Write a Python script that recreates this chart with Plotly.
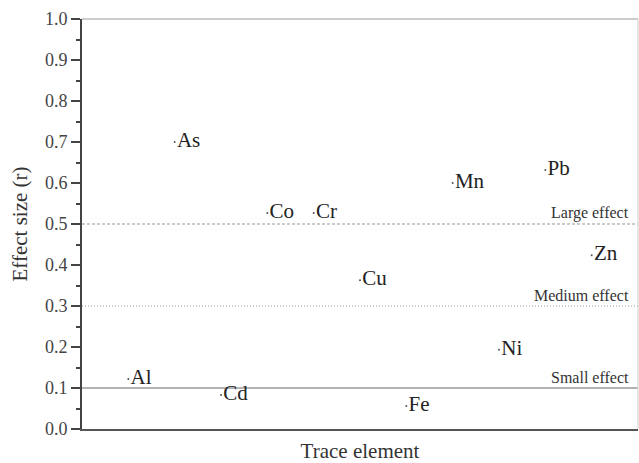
import plotly.graph_objects as go

elements = ["Al", "As", "Cd", "Co", "Cr", "Cu", "Fe", "Mn", "Ni", "Pb", "Zn"]
positions = [1, 2, 3, 4, 5, 6, 7, 8, 9, 10, 11]
effect_r = [0.122, 0.70, 0.083, 0.527, 0.527, 0.363, 0.056, 0.60, 0.193, 0.632, 0.424]

thresholds = [0.1, 0.3, 0.5]
threshold_labels = ["Small effect", "Medium effect", "Large effect"]
threshold_dash = ["solid", "1px,2px", "3px,2px"]
threshold_color = ["#666666", "#999999", "#999999"]

y_ticks = [0.0, 0.1, 0.2, 0.3, 0.4, 0.5, 0.6, 0.7, 0.8, 0.9, 1.0]

FONT = "Liberation Serif, Times New Roman, DejaVu Serif, serif"

fig = go.Figure()
fig.add_trace(go.Scatter(
    x=positions, y=effect_r, mode="markers+text", text=elements,
    textposition="middle right",
    textfont=dict(family=FONT, size=21, color="#222222"),
    marker=dict(size=2, color="#555555"),
    showlegend=False, cliponaxis=False,
))

for v, lab, d, c in zip(thresholds, threshold_labels, threshold_dash, threshold_color):
    fig.add_shape(type="line", xref="paper", x0=0, x1=1, y0=v, y1=v,
                  line=dict(color=c, width=1, dash=d), layer="below")
    fig.add_annotation(xref="paper", x=0.987, y=v, text=lab, showarrow=False,
                       xanchor="right", yanchor="bottom", yshift=0,
                       font=dict(family=FONT, size=16, color="#333333"))

fig.update_layout(
    width=639, height=463,
    margin=dict(l=82, r=1, t=19, b=34),
    plot_bgcolor="white", paper_bgcolor="white",
    font=dict(family=FONT, color="#333333"),
    xaxis=dict(range=[0, 12], showticklabels=False, ticks="", showgrid=False,
               zeroline=False, showline=True, linecolor="#555555", linewidth=2,
               mirror=False, automargin=False,
               title=dict(text="Trace element", font=dict(family=FONT, size=21, color="#333333"),
                          standoff=14)),
    yaxis=dict(range=[0, 1.0], tickvals=y_ticks, tickformat=".1f",
               ticks="outside", ticklen=9, tickwidth=1.5, tickcolor="#444444",
               showgrid=False, zeroline=False, showline=True, linecolor="#444444", linewidth=2,
               tickfont=dict(family=FONT, size=18, color="#444444"), automargin=False,
               minor=dict(dtick=0.05, ticks="outside", ticklen=4, tickcolor="#444444", tickwidth=1.5),
               title=dict(text="Effect size (r)", font=dict(family=FONT, size=21, color="#333333"),
                          standoff=12)),
)
# light frame on top and right
fig.add_shape(type="line", xref="paper", yref="paper", x0=0, x1=1, y0=1, y1=1,
              line=dict(color="#bbbbbb", width=1.5))
fig.add_shape(type="line", xref="paper", yref="paper", x0=1, x1=1, y0=0, y1=1,
              line=dict(color="#cccccc", width=1))

fig.write_html("out.html", config={"displayModeBar": False},
               post_script="document.body.style.margin='0';document.body.style.overflow='hidden';")
